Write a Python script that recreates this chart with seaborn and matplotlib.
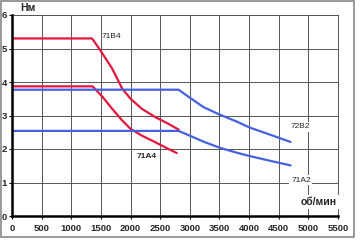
import pandas as pd
import seaborn as sns
import matplotlib.pyplot as plt
from matplotlib.patches import Rectangle

# кривые момента (об/мин, Нм)
rpm_71b4 = [0, 1350, 1470, 1690, 1860, 2000, 2190, 2420, 2640, 2810]
nm_71b4 = [5.3, 5.3, 5.0, 4.4, 3.8, 3.5, 3.2, 2.95, 2.75, 2.58]

rpm_71a4 = [0, 1360, 1530, 1690, 1860, 2000, 2190, 2420, 2640, 2780]
nm_71a4 = [3.87, 3.87, 3.55, 3.2, 2.85, 2.6, 2.4, 2.2, 2.0, 1.88]

rpm_72b2 = [0, 2810, 3010, 3230, 3500, 3790, 4010, 4350, 4700]
nm_72b2 = [3.77, 3.77, 3.52, 3.25, 3.03, 2.82, 2.64, 2.43, 2.21]

rpm_71a2 = [0, 2810, 3010, 3230, 3500, 3790, 4010, 4350, 4700]
nm_71a2 = [2.54, 2.54, 2.39, 2.22, 2.04, 1.89, 1.79, 1.65, 1.51]

x_ticks = [0, 500, 1000, 1500, 2000, 2500, 3000, 3500, 4000, 4500, 5000, 5500]
y_ticks = [0, 1, 2, 3, 4, 5, 6]

red = '#e4163c'
blue = '#4561e0'

sns.set_style('white')
plt.rcParams['font.family'] = ['Liberation Sans', 'DejaVu Sans']

fig = plt.figure(figsize=(3.6, 2.4), dpi=100)
ax = fig.add_axes([12 / 360, 1 - 216 / 240, 326 / 360, 201 / 240])

for xs, ys, c in [(rpm_71b4, nm_71b4, red), (rpm_71a4, nm_71a4, red),
                  (rpm_72b2, nm_72b2, blue), (rpm_71a2, nm_71a2, blue)]:
    df = pd.DataFrame({'x': xs, 'y': ys})
    sns.lineplot(data=df, x='x', y='y', color=c, linewidth=1.6, ax=ax,
                 sort=False, zorder=3)

ax.set_xlim(0, 5500)
ax.set_ylim(0, 6)
ax.set_xticks(x_ticks)
ax.set_yticks(y_ticks)
ax.set_xticklabels([str(t) for t in x_ticks], fontsize=6.8, fontweight='bold')
ax.set_yticklabels([str(t) for t in y_ticks], fontsize=6.8, fontweight='bold')
ax.grid(True, color='#555555', linewidth=0.7)
ax.set_xlabel('')
ax.set_ylabel('')
ax.tick_params(axis='both', length=2, width=0.8, pad=1.5, color='black',
               bottom=True, left=True)
ax.tick_params(axis='x', pad=4)
for s in ['top', 'right']:
    ax.spines[s].set_color('#555555')
    ax.spines[s].set_linewidth(0.7)
for s in ['left', 'bottom']:
    ax.spines[s].set_color('black')
    ax.spines[s].set_linewidth(1.8)
    ax.spines[s].set_zorder(4)

box = dict(facecolor='white', edgecolor='none', pad=1.2)
ax.text(1675, 5.37, '71B4', fontsize=6, ha='center', va='center', zorder=5)
ax.text(2278, 1.79, '71A4', fontsize=6, fontweight='bold', ha='center',
        va='center', zorder=5)
ax.text(4858, 2.66, '72B2', fontsize=6, ha='center', va='center',
        bbox=box, zorder=5)
ax.text(4874, 1.07, '71A2', fontsize=6, ha='center', va='center',
        bbox=box, zorder=5)
ax.text(5176, 0.42, 'об/мин', fontsize=7.5, fontweight='bold', ha='center',
        va='center', bbox=box, zorder=5)
ax.text(268, 6.21, 'Нм', fontsize=7.5, fontweight='bold', ha='center',
        va='center', clip_on=False)

fig.patches.append(Rectangle((0.5 / 360, 1 - 237 / 240), 353.5 / 360, 236.5 / 240,
                             transform=fig.transFigure, fill=False,
                             edgecolor='#888888', linewidth=1.2))

fig.savefig('out.png', dpi=100)
